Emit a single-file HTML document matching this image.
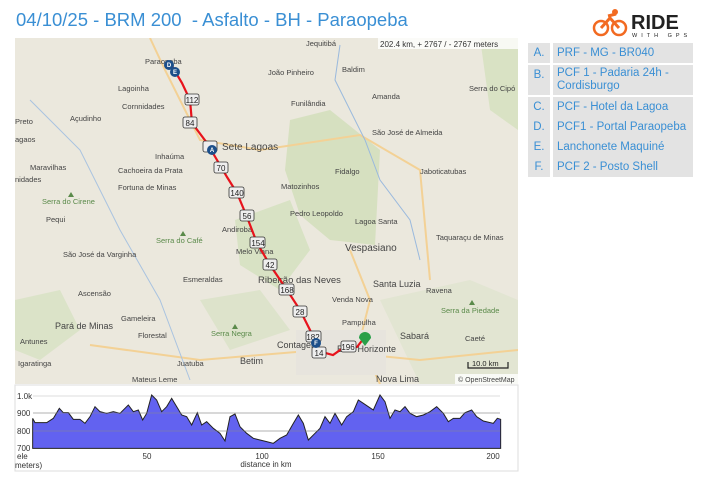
<!DOCTYPE html>
<html><head><meta charset="utf-8"><style>
body{margin:0;width:708px;height:478px;background:#fff;font-family:"Liberation Sans",sans-serif;overflow:hidden;position:relative}
.t{position:absolute;left:16px;top:9px;font-size:18.5px;color:#3a8fd4}
.leg{position:absolute;left:528px;width:165px;font-size:11.5px;color:#3a8fd4}
.leg div{position:absolute;background:#e3e3e3;height:20px;line-height:20px}
</style></head><body>
<div class="t">04/10/25 - BRM 200&nbsp; - Asfalto - BH - Paraopeba</div>
<svg style="position:absolute;left:588px;top:8px" width="110" height="30">
<circle cx="13" cy="20" r="7" fill="none" stroke="#f26a21" stroke-width="2.5"/><circle cx="31" cy="20" r="7" fill="none" stroke="#f26a21" stroke-width="2.5"/>
<path d="M13 20 L22 10 L31 20 M20 8 L28 6" stroke="#f26a21" stroke-width="3" fill="none"/><circle cx="27" cy="4" r="3" fill="#f26a21"/>
<text x="43" y="21" font-size="20" font-weight="bold" fill="#222" font-family="Liberation Sans">RIDE</text>
<text x="44" y="29" font-size="5.5" fill="#222" letter-spacing="4" font-family="Liberation Sans">WITH GPS</text>
</svg>
<div class="leg" style="top:43px">
<div style="left:0;top:0;width:22px;text-align:center">A.</div><div style="left:25px;top:0;width:140px;padding-left:4px;box-sizing:border-box">PRF - MG - BR040</div>
<div style="left:0;top:22px;width:22px;height:30px;text-align:center">B.</div><div style="left:25px;top:22px;width:140px;height:30px;padding-left:4px;box-sizing:border-box;line-height:13px;padding-top:2px">PCF 1 - Padaria 24h - Cordisburgo</div>
<div style="left:0;top:54px;width:22px;text-align:center">C.</div><div style="left:25px;top:54px;width:140px;padding-left:4px;box-sizing:border-box">PCF - Hotel da Lagoa</div>
<div style="left:0;top:74px;width:22px;text-align:center">D.</div><div style="left:25px;top:74px;width:140px;padding-left:4px;box-sizing:border-box">PCF1 - Portal Paraopeba</div>
<div style="left:0;top:94px;width:22px;text-align:center">E.</div><div style="left:25px;top:94px;width:140px;padding-left:4px;box-sizing:border-box">Lanchonete Maquiné</div>
<div style="left:0;top:114px;width:22px;text-align:center">F.</div><div style="left:25px;top:114px;width:140px;padding-left:4px;box-sizing:border-box">PCF 2 - Posto Shell</div>
</div>
<svg style="position:absolute;left:0;top:0" width="708" height="478" font-family="Liberation Sans">
<defs><clipPath id="c"><rect x="15" y="38" width="503" height="346"/></clipPath></defs>
<g clip-path="url(#c)">
<rect x="15" y="38" width="503" height="346" fill="#ebe8dd"/>
<path d="M290 120 L330 110 L380 150 L375 245 L330 240 L300 215 L285 170Z" fill="#d6e0c0"/>
<path d="M235 220 L290 200 L310 250 L280 290 L240 265Z" fill="#d8e2c4"/>
<path d="M15 300 L60 290 L80 330 L40 360 L15 350Z" fill="#dbe3c8"/>
<path d="M480 38 L518 38 L518 130 L490 110Z" fill="#d9e2c4"/>
<path d="M200 300 L260 290 L290 330 L230 350Z" fill="#dde3cb"/>
<path d="M380 300 L470 280 L518 300 L518 384 L420 384Z" fill="#e2e5d2"/>
<path d="M150 38 L165 70 L200 140 L260 150 L360 135 L420 170 L430 280" stroke="#f3d195" stroke-width="2" fill="none"/>
<path d="M90 345 L200 360 L320 350 L420 360 L518 350" stroke="#f3d195" stroke-width="2" fill="none"/>
<path d="M350 250 L370 300 L360 340 L380 384" stroke="#f3d195" stroke-width="2" fill="none"/>
<path d="M340 45 L335 80 L350 110 L365 140 L380 180 L410 220 L420 260" stroke="#9ab9dd" stroke-width="1" fill="none"/>
<path d="M30 100 L80 150 L120 230 L160 300 L190 380" stroke="#a9c3e0" stroke-width="1" fill="none"/>
<rect x="296" y="330" width="90" height="45" fill="#e7e4dd"/>
<g font-size="7.5" fill="#444">
<text x="306" y="46">Jequitibá</text><text x="145" y="64">Paraopeba</text><text x="342" y="72">Baldim</text>
<text x="268" y="75">João Pinheiro</text><text x="118" y="91">Lagoinha</text><text x="372" y="99">Amanda</text>
<text x="469" y="91">Serra do Cipó</text><text x="122" y="109">Cornnidades</text><text x="291" y="106">Funilândia</text>
<text x="70" y="121">Açudinho</text><text x="15" y="124">Preto</text><text x="372" y="135">São José de Almeida</text>
<text x="15" y="142">agaos</text><text x="222" y="150" font-size="10">Sete Lagoas</text><text x="155" y="159">Inhaúma</text>
<text x="30" y="170">Maravilhas</text><text x="118" y="173">Cachoeira da Prata</text><text x="335" y="174">Fidalgo</text>
<text x="420" y="174">Jaboticatubas</text><text x="15" y="182">nidades</text><text x="118" y="190">Fortuna de Minas</text>
<text x="281" y="189">Matozinhos</text><text x="46" y="222">Pequi</text><text x="290" y="216">Pedro Leopoldo</text>
<text x="355" y="224">Lagoa Santa</text><text x="222" y="232">Andiroba</text><text x="436" y="240">Taquaraçu de Minas</text>
<text x="63" y="257">São José da Varginha</text><text x="236" y="254">Melo Viana</text><text x="345" y="251" font-size="10">Vespasiano</text>
<text x="183" y="282">Esmeraldas</text><text x="258" y="283" font-size="9.5">Ribeirão das Neves</text><text x="373" y="287" font-size="9">Santa Luzia</text>
<text x="426" y="293">Ravena</text><text x="78" y="296">Ascensão</text><text x="332" y="302">Venda Nova</text>
<text x="121" y="321">Gameleira</text><text x="55" y="329" font-size="9">Pará de Minas</text><text x="342" y="325">Pampulha</text>
<text x="138" y="338">Florestal</text><text x="20" y="344">Antunes</text><text x="400" y="339" font-size="9">Sabará</text>
<text x="465" y="341">Caeté</text><text x="277" y="348" font-size="9">Contagem</text><text x="337" y="352" font-size="9">Belo Horizonte</text>
<text x="240" y="364" font-size="9">Betim</text><text x="18" y="366">Igaratinga</text><text x="177" y="366">Juatuba</text>
<text x="132" y="382">Mateus Leme</text><text x="376" y="382" font-size="9">Nova Lima</text>
</g>
<g font-size="7.5" fill="#5a8a4a"><text x="42" y="204">Serra do Cirene</text><text x="156" y="243">Serra do Café</text><text x="211" y="336">Serra Negra</text><text x="441" y="313">Serra da Piedade</text></g>
<path d="M68 197 l3 -5 l3 5z M180 236 l3 -5 l3 5z M232 329 l3 -5 l3 5z M469 305 l3 -5 l3 5z" fill="#5a8a4a"/>
<polyline points="170,62 176,73 182,83 190,100 192,123 207,143 217,160 227,177 237,193 247,217 257,243 270,265 287,290 300,310 310,330 315,342 322,352 333,355 343,348 357,347 364,338" fill="none" stroke="#e8131c" stroke-width="2.2"/>
<g font-size="8" fill="#222" text-anchor="middle">
<g fill="#eee" stroke="#333" stroke-width="0.8"><rect x="185" y="94" width="14" height="11" rx="2"/><rect x="183" y="117" width="14" height="11" rx="2"/><rect x="203" y="141" width="14" height="11" rx="2"/><rect x="214" y="162" width="14" height="11" rx="2"/><rect x="229" y="187" width="15" height="11" rx="2"/><rect x="240" y="210" width="14" height="11" rx="2"/><rect x="250" y="237" width="15" height="11" rx="2"/><rect x="263" y="259" width="14" height="11" rx="2"/><rect x="279" y="284" width="15" height="11" rx="2"/><rect x="293" y="306" width="14" height="11" rx="2"/><rect x="306" y="331" width="15" height="11" rx="2"/><rect x="312" y="347" width="14" height="11" rx="2"/><rect x="341" y="341" width="15" height="11" rx="2"/></g>
<text x="192" y="103">112</text><text x="190" y="126">84</text><text x="221" y="171">70</text><text x="237" y="196">140</text><text x="247" y="219">56</text><text x="258" y="246">154</text><text x="270" y="268">42</text><text x="287" y="293">168</text><text x="300" y="315">28</text><text x="313" y="340">182</text><text x="319" y="356">14</text><text x="348" y="350">196</text>
</g>
<g fill="#1c4f8a" font-size="6" font-weight="bold"><circle cx="169" cy="65" r="5"/><circle cx="175" cy="72" r="5"/><circle cx="212" cy="150" r="5"/><circle cx="316" cy="343" r="5"/></g>
<g fill="#fff" font-size="6" font-weight="bold" text-anchor="middle"><text x="169" y="67">D</text><text x="175" y="74">E</text><text x="212" y="152">A</text><text x="316" y="345">F</text></g>
<path d="M365 346 L359 338 A6 6 0 1 1 371 338Z" fill="#2aa04a"/>
<rect x="378" y="38" width="140" height="11" fill="#fff" opacity="0.8"/><text x="380" y="47" font-size="8" fill="#333">202.4 km, + 2767 / - 2767 meters</text>
<path d="M468 362 v6 h40 v-6" stroke="#222" fill="none" stroke-width="1.2"/><text x="472" y="366" font-size="7.5" fill="#222">10.0 km</text>
<rect x="455" y="374" width="63" height="10" fill="#fff" opacity="0.8"/><text x="458" y="382" font-size="7" fill="#444">© OpenStreetMap</text>
</g>
<rect x="15" y="385" width="503" height="86" fill="#fff" stroke="#ddd"/>
<g stroke="#ddd" stroke-width="1"><line x1="33" y1="396" x2="500" y2="396"/><line x1="33" y1="413" x2="500" y2="413"/><line x1="33" y1="431" x2="500" y2="431"/></g>
<g transform="translate(0,380) scale(0.33333)">
<polygon points="98,205 98,115 105,128 140,128 160,115 178,85 190,98 205,98 220,118 240,118 255,130 270,110 285,80 300,95 320,100 340,95 360,100 385,75 400,95 415,90 428,120 440,100 455,45 470,60 485,95 500,80 515,55 530,80 545,105 560,110 575,135 592,98 605,135 620,125 640,145 660,160 675,183 690,110 705,102 720,140 740,160 760,175 780,180 800,185 820,190 840,175 860,165 880,130 895,105 910,130 925,180 945,160 960,145 975,110 990,130 1005,100 1025,135 1040,110 1060,95 1075,60 1090,70 1105,80 1120,90 1140,45 1155,65 1170,115 1185,90 1200,95 1215,80 1230,100 1250,110 1270,105 1290,95 1310,80 1330,100 1345,125 1360,115 1380,115 1395,98 1415,90 1430,110 1450,123 1480,130 1492,115 1502,118 1502,205" fill="#6262f0" stroke="#222" stroke-width="3"/>
</g>
<g stroke="#888" opacity="0.5"><line x1="33" y1="413" x2="500" y2="413"/><line x1="33" y1="431" x2="500" y2="431"/></g>
<g font-size="8" fill="#333"><text x="17" y="399">1.0k</text><text x="17" y="416">900</text><text x="17" y="434">800</text><text x="17" y="451">700</text>
<text x="17" y="459">ele</text><text x="15" y="468">meters)</text>
<text x="147" y="459" text-anchor="middle">50</text><text x="262" y="459" text-anchor="middle">100</text><text x="378" y="459" text-anchor="middle">150</text><text x="493" y="459" text-anchor="middle">200</text>
<text x="266" y="467" text-anchor="middle">distance in km</text></g>
</svg>
</body></html>
